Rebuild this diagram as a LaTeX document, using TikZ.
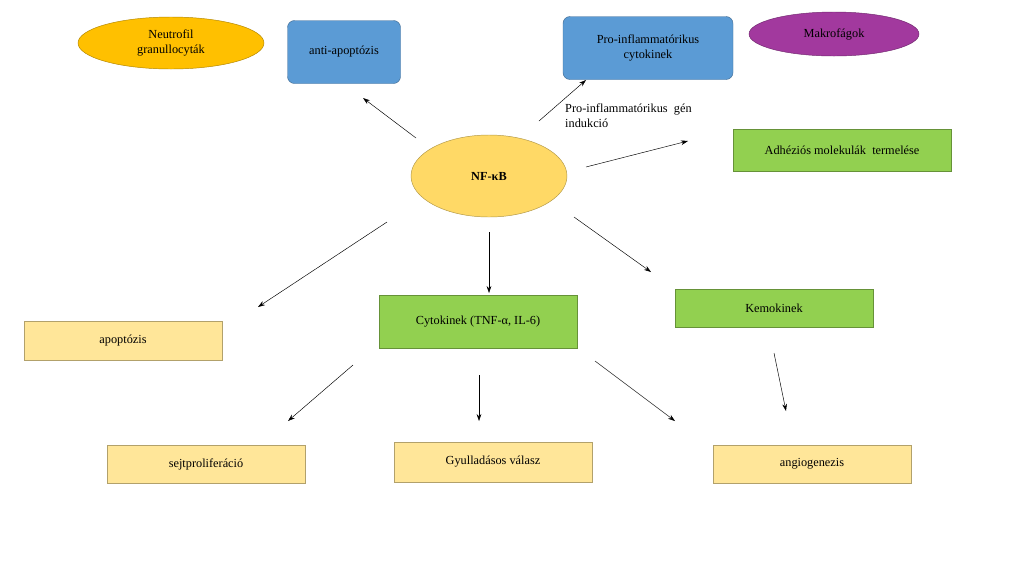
\documentclass[tikz,border=0pt]{standalone}
\usepackage{fontspec}
\setmainfont{Liberation Serif}
\usetikzlibrary{shapes.geometric,arrows.meta}
\definecolor{blu}{HTML}{5B9BD5}
\definecolor{grn}{HTML}{92D050}
\definecolor{lyel}{HTML}{FFE699}
\definecolor{nfy}{HTML}{FFD966}
\definecolor{org}{HTML}{FFC000}
\definecolor{pur}{HTML}{A2399E}
\begin{document}
\begin{tikzpicture}[x=0.03cm,y=-0.03cm,font=\fontsize{10.5}{12.5}\selectfont,
 bx/.style={draw=#1!70!black,fill=#1,minimum width=198*0.03cm,align=center},
 rbox/.style={draw=blu!70!black,fill=blu,rounded corners=6pt,align=center},
 ell/.style={ellipse,draw=#1!70!black,fill=#1,align=center,inner sep=0pt},
 arr/.style={-{Stealth[length=6pt,width=4pt]},thin}]
\useasboundingbox[fill=white] (0,0) rectangle (1024,576);
\node[ell=org,minimum width=186*0.03cm,minimum height=52*0.03cm] (neu) at (171,43) {Neutrofil\\granullocyták};
\node[rbox,minimum width=113*0.03cm,minimum height=63*0.03cm] (anti) at (344,52) {anti-apoptózis};
\node[rbox,minimum width=170*0.03cm,minimum height=63*0.03cm] (pro) at (648,48) {Pro-inflammatórikus\\cytokinek};
\node[ell=pur,minimum width=170*0.03cm,minimum height=44*0.03cm] (mak) at (834,34) {Makrofágok};
\node[ell=nfy,minimum width=156*0.03cm,minimum height=82*0.03cm,font=\fontsize{10.5}{12.5}\selectfont\bfseries] (nf) at (489,176) {NF-κB};
\node[align=left,anchor=north west,inner sep=0pt] (gen) at (565,104) {Pro-inflammatórikus\ \ gén\\indukció};
\node[bx=grn,minimum width=218*0.03cm,minimum height=42*0.03cm] (adh) at (842,150) {Adhéziós molekulák\ \ termelése};
\node[bx=lyel,minimum height=39*0.03cm] (apo) at (123,341) {apoptózis};
\node[bx=grn,minimum height=53*0.03cm] (cyt) at (478,322) {Cytokinek (TNF-α, IL-6)};
\node[bx=grn,minimum height=38*0.03cm] (kem) at (774,308) {Kemokinek};
\node[bx=lyel,minimum height=38*0.03cm] (sej) at (206,464) {sejtproliferáció};
\node[bx=lyel,minimum height=40*0.03cm] (gyu) at (493,462) {Gyulladásos válasz};
\node[bx=lyel,minimum height=38*0.03cm] (ang) at (812,464) {angiogenezis};
\foreach \n/\a/\b in {1/{416,138}/{363,98},2/{539,121}/{586,80},3/{586,167}/{688,141},4/{387,222}/{258,307},5/{489,232}/{489,293},6/{574,217}/{651,272},7/{353,365}/{288,421},8/{479,375}/{479,421},9/{595,361}/{675,421},10/{774,353}/{786,411}}{
 \coordinate (s\n) at (\a); \coordinate (e\n) at (\b);
 \draw[arr] (s\n) -- (e\n);}
\end{tikzpicture}
\end{document}
